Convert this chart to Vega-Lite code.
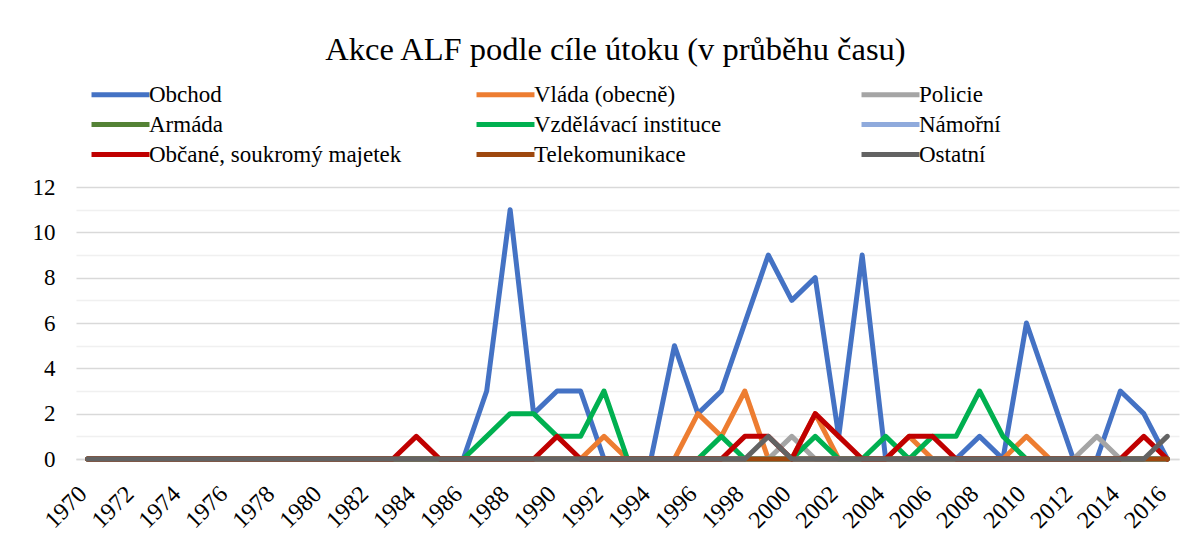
{
  "$schema": "https://vega.github.io/schema/vega-lite/v6.json",
  "width": 1103,
  "height": 272,
  "autosize": {"type": "none"},
  "padding": {"left": 76, "top": 187, "right": 21, "bottom": 91},
  "background": "white",
  "title": {"text": "Akce ALF podle cíle útoku (v průběhu času)", "font": "Liberation Serif, Times New Roman, DejaVu Serif, serif", "fontSize": 32.5, "fontWeight": "normal", "color": "#000000", "anchor": "middle", "dx": -12, "offset": 17},
  "data": {"values": [
{"year":1970,"target":"Obchod","n":0},{"year":1971,"target":"Obchod","n":0},{"year":1972,"target":"Obchod","n":0},{"year":1973,"target":"Obchod","n":0},{"year":1974,"target":"Obchod","n":0},{"year":1975,"target":"Obchod","n":0},{"year":1976,"target":"Obchod","n":0},{"year":1977,"target":"Obchod","n":0},{"year":1978,"target":"Obchod","n":0},{"year":1979,"target":"Obchod","n":0},{"year":1980,"target":"Obchod","n":0},{"year":1981,"target":"Obchod","n":0},{"year":1982,"target":"Obchod","n":0},{"year":1983,"target":"Obchod","n":0},{"year":1984,"target":"Obchod","n":0},{"year":1985,"target":"Obchod","n":0},{"year":1986,"target":"Obchod","n":0},{"year":1987,"target":"Obchod","n":3},{"year":1988,"target":"Obchod","n":11},{"year":1989,"target":"Obchod","n":2},{"year":1990,"target":"Obchod","n":3},{"year":1991,"target":"Obchod","n":3},{"year":1992,"target":"Obchod","n":0},{"year":1993,"target":"Obchod","n":0},{"year":1994,"target":"Obchod","n":0},{"year":1995,"target":"Obchod","n":5},{"year":1996,"target":"Obchod","n":2},{"year":1997,"target":"Obchod","n":3},{"year":1998,"target":"Obchod","n":6},{"year":1999,"target":"Obchod","n":9},{"year":2000,"target":"Obchod","n":7},{"year":2001,"target":"Obchod","n":8},{"year":2002,"target":"Obchod","n":1},{"year":2003,"target":"Obchod","n":9},{"year":2004,"target":"Obchod","n":0},{"year":2005,"target":"Obchod","n":0},{"year":2006,"target":"Obchod","n":0},{"year":2007,"target":"Obchod","n":0},{"year":2008,"target":"Obchod","n":1},{"year":2009,"target":"Obchod","n":0},{"year":2010,"target":"Obchod","n":6},{"year":2011,"target":"Obchod","n":3},{"year":2012,"target":"Obchod","n":0},{"year":2013,"target":"Obchod","n":0},{"year":2014,"target":"Obchod","n":3},{"year":2015,"target":"Obchod","n":2},{"year":2016,"target":"Obchod","n":0},
{"year":1970,"target":"Vláda (obecně)","n":0},{"year":1971,"target":"Vláda (obecně)","n":0},{"year":1972,"target":"Vláda (obecně)","n":0},{"year":1973,"target":"Vláda (obecně)","n":0},{"year":1974,"target":"Vláda (obecně)","n":0},{"year":1975,"target":"Vláda (obecně)","n":0},{"year":1976,"target":"Vláda (obecně)","n":0},{"year":1977,"target":"Vláda (obecně)","n":0},{"year":1978,"target":"Vláda (obecně)","n":0},{"year":1979,"target":"Vláda (obecně)","n":0},{"year":1980,"target":"Vláda (obecně)","n":0},{"year":1981,"target":"Vláda (obecně)","n":0},{"year":1982,"target":"Vláda (obecně)","n":0},{"year":1983,"target":"Vláda (obecně)","n":0},{"year":1984,"target":"Vláda (obecně)","n":0},{"year":1985,"target":"Vláda (obecně)","n":0},{"year":1986,"target":"Vláda (obecně)","n":0},{"year":1987,"target":"Vláda (obecně)","n":0},{"year":1988,"target":"Vláda (obecně)","n":0},{"year":1989,"target":"Vláda (obecně)","n":0},{"year":1990,"target":"Vláda (obecně)","n":0},{"year":1991,"target":"Vláda (obecně)","n":0},{"year":1992,"target":"Vláda (obecně)","n":1},{"year":1993,"target":"Vláda (obecně)","n":0},{"year":1994,"target":"Vláda (obecně)","n":0},{"year":1995,"target":"Vláda (obecně)","n":0},{"year":1996,"target":"Vláda (obecně)","n":2},{"year":1997,"target":"Vláda (obecně)","n":1},{"year":1998,"target":"Vláda (obecně)","n":3},{"year":1999,"target":"Vláda (obecně)","n":0},{"year":2000,"target":"Vláda (obecně)","n":0},{"year":2001,"target":"Vláda (obecně)","n":2},{"year":2002,"target":"Vláda (obecně)","n":0},{"year":2003,"target":"Vláda (obecně)","n":0},{"year":2004,"target":"Vláda (obecně)","n":0},{"year":2005,"target":"Vláda (obecně)","n":1},{"year":2006,"target":"Vláda (obecně)","n":0},{"year":2007,"target":"Vláda (obecně)","n":0},{"year":2008,"target":"Vláda (obecně)","n":0},{"year":2009,"target":"Vláda (obecně)","n":0},{"year":2010,"target":"Vláda (obecně)","n":1},{"year":2011,"target":"Vláda (obecně)","n":0},{"year":2012,"target":"Vláda (obecně)","n":0},{"year":2013,"target":"Vláda (obecně)","n":0},{"year":2014,"target":"Vláda (obecně)","n":0},{"year":2015,"target":"Vláda (obecně)","n":0},{"year":2016,"target":"Vláda (obecně)","n":0},
{"year":1970,"target":"Policie","n":0},{"year":1971,"target":"Policie","n":0},{"year":1972,"target":"Policie","n":0},{"year":1973,"target":"Policie","n":0},{"year":1974,"target":"Policie","n":0},{"year":1975,"target":"Policie","n":0},{"year":1976,"target":"Policie","n":0},{"year":1977,"target":"Policie","n":0},{"year":1978,"target":"Policie","n":0},{"year":1979,"target":"Policie","n":0},{"year":1980,"target":"Policie","n":0},{"year":1981,"target":"Policie","n":0},{"year":1982,"target":"Policie","n":0},{"year":1983,"target":"Policie","n":0},{"year":1984,"target":"Policie","n":0},{"year":1985,"target":"Policie","n":0},{"year":1986,"target":"Policie","n":0},{"year":1987,"target":"Policie","n":0},{"year":1988,"target":"Policie","n":0},{"year":1989,"target":"Policie","n":0},{"year":1990,"target":"Policie","n":0},{"year":1991,"target":"Policie","n":0},{"year":1992,"target":"Policie","n":0},{"year":1993,"target":"Policie","n":0},{"year":1994,"target":"Policie","n":0},{"year":1995,"target":"Policie","n":0},{"year":1996,"target":"Policie","n":0},{"year":1997,"target":"Policie","n":0},{"year":1998,"target":"Policie","n":0},{"year":1999,"target":"Policie","n":0},{"year":2000,"target":"Policie","n":1},{"year":2001,"target":"Policie","n":0},{"year":2002,"target":"Policie","n":0},{"year":2003,"target":"Policie","n":0},{"year":2004,"target":"Policie","n":0},{"year":2005,"target":"Policie","n":0},{"year":2006,"target":"Policie","n":0},{"year":2007,"target":"Policie","n":0},{"year":2008,"target":"Policie","n":0},{"year":2009,"target":"Policie","n":0},{"year":2010,"target":"Policie","n":0},{"year":2011,"target":"Policie","n":0},{"year":2012,"target":"Policie","n":0},{"year":2013,"target":"Policie","n":1},{"year":2014,"target":"Policie","n":0},{"year":2015,"target":"Policie","n":0},{"year":2016,"target":"Policie","n":0},
{"year":1970,"target":"Armáda","n":0},{"year":1971,"target":"Armáda","n":0},{"year":1972,"target":"Armáda","n":0},{"year":1973,"target":"Armáda","n":0},{"year":1974,"target":"Armáda","n":0},{"year":1975,"target":"Armáda","n":0},{"year":1976,"target":"Armáda","n":0},{"year":1977,"target":"Armáda","n":0},{"year":1978,"target":"Armáda","n":0},{"year":1979,"target":"Armáda","n":0},{"year":1980,"target":"Armáda","n":0},{"year":1981,"target":"Armáda","n":0},{"year":1982,"target":"Armáda","n":0},{"year":1983,"target":"Armáda","n":0},{"year":1984,"target":"Armáda","n":0},{"year":1985,"target":"Armáda","n":0},{"year":1986,"target":"Armáda","n":0},{"year":1987,"target":"Armáda","n":0},{"year":1988,"target":"Armáda","n":0},{"year":1989,"target":"Armáda","n":0},{"year":1990,"target":"Armáda","n":0},{"year":1991,"target":"Armáda","n":0},{"year":1992,"target":"Armáda","n":0},{"year":1993,"target":"Armáda","n":0},{"year":1994,"target":"Armáda","n":0},{"year":1995,"target":"Armáda","n":0},{"year":1996,"target":"Armáda","n":0},{"year":1997,"target":"Armáda","n":0},{"year":1998,"target":"Armáda","n":0},{"year":1999,"target":"Armáda","n":0},{"year":2000,"target":"Armáda","n":0},{"year":2001,"target":"Armáda","n":0},{"year":2002,"target":"Armáda","n":0},{"year":2003,"target":"Armáda","n":0},{"year":2004,"target":"Armáda","n":0},{"year":2005,"target":"Armáda","n":0},{"year":2006,"target":"Armáda","n":0},{"year":2007,"target":"Armáda","n":0},{"year":2008,"target":"Armáda","n":0},{"year":2009,"target":"Armáda","n":0},{"year":2010,"target":"Armáda","n":0},{"year":2011,"target":"Armáda","n":0},{"year":2012,"target":"Armáda","n":0},{"year":2013,"target":"Armáda","n":0},{"year":2014,"target":"Armáda","n":0},{"year":2015,"target":"Armáda","n":0},{"year":2016,"target":"Armáda","n":0},
{"year":1970,"target":"Vzdělávací instituce","n":0},{"year":1971,"target":"Vzdělávací instituce","n":0},{"year":1972,"target":"Vzdělávací instituce","n":0},{"year":1973,"target":"Vzdělávací instituce","n":0},{"year":1974,"target":"Vzdělávací instituce","n":0},{"year":1975,"target":"Vzdělávací instituce","n":0},{"year":1976,"target":"Vzdělávací instituce","n":0},{"year":1977,"target":"Vzdělávací instituce","n":0},{"year":1978,"target":"Vzdělávací instituce","n":0},{"year":1979,"target":"Vzdělávací instituce","n":0},{"year":1980,"target":"Vzdělávací instituce","n":0},{"year":1981,"target":"Vzdělávací instituce","n":0},{"year":1982,"target":"Vzdělávací instituce","n":0},{"year":1983,"target":"Vzdělávací instituce","n":0},{"year":1984,"target":"Vzdělávací instituce","n":0},{"year":1985,"target":"Vzdělávací instituce","n":0},{"year":1986,"target":"Vzdělávací instituce","n":0},{"year":1987,"target":"Vzdělávací instituce","n":1},{"year":1988,"target":"Vzdělávací instituce","n":2},{"year":1989,"target":"Vzdělávací instituce","n":2},{"year":1990,"target":"Vzdělávací instituce","n":1},{"year":1991,"target":"Vzdělávací instituce","n":1},{"year":1992,"target":"Vzdělávací instituce","n":3},{"year":1993,"target":"Vzdělávací instituce","n":0},{"year":1994,"target":"Vzdělávací instituce","n":0},{"year":1995,"target":"Vzdělávací instituce","n":0},{"year":1996,"target":"Vzdělávací instituce","n":0},{"year":1997,"target":"Vzdělávací instituce","n":1},{"year":1998,"target":"Vzdělávací instituce","n":0},{"year":1999,"target":"Vzdělávací instituce","n":0},{"year":2000,"target":"Vzdělávací instituce","n":0},{"year":2001,"target":"Vzdělávací instituce","n":1},{"year":2002,"target":"Vzdělávací instituce","n":0},{"year":2003,"target":"Vzdělávací instituce","n":0},{"year":2004,"target":"Vzdělávací instituce","n":1},{"year":2005,"target":"Vzdělávací instituce","n":0},{"year":2006,"target":"Vzdělávací instituce","n":1},{"year":2007,"target":"Vzdělávací instituce","n":1},{"year":2008,"target":"Vzdělávací instituce","n":3},{"year":2009,"target":"Vzdělávací instituce","n":1},{"year":2010,"target":"Vzdělávací instituce","n":0},{"year":2011,"target":"Vzdělávací instituce","n":0},{"year":2012,"target":"Vzdělávací instituce","n":0},{"year":2013,"target":"Vzdělávací instituce","n":0},{"year":2014,"target":"Vzdělávací instituce","n":0},{"year":2015,"target":"Vzdělávací instituce","n":0},{"year":2016,"target":"Vzdělávací instituce","n":0},
{"year":1970,"target":"Námořní","n":0},{"year":1971,"target":"Námořní","n":0},{"year":1972,"target":"Námořní","n":0},{"year":1973,"target":"Námořní","n":0},{"year":1974,"target":"Námořní","n":0},{"year":1975,"target":"Námořní","n":0},{"year":1976,"target":"Námořní","n":0},{"year":1977,"target":"Námořní","n":0},{"year":1978,"target":"Námořní","n":0},{"year":1979,"target":"Námořní","n":0},{"year":1980,"target":"Námořní","n":0},{"year":1981,"target":"Námořní","n":0},{"year":1982,"target":"Námořní","n":0},{"year":1983,"target":"Námořní","n":0},{"year":1984,"target":"Námořní","n":0},{"year":1985,"target":"Námořní","n":0},{"year":1986,"target":"Námořní","n":0},{"year":1987,"target":"Námořní","n":0},{"year":1988,"target":"Námořní","n":0},{"year":1989,"target":"Námořní","n":0},{"year":1990,"target":"Námořní","n":0},{"year":1991,"target":"Námořní","n":0},{"year":1992,"target":"Námořní","n":0},{"year":1993,"target":"Námořní","n":0},{"year":1994,"target":"Námořní","n":0},{"year":1995,"target":"Námořní","n":0},{"year":1996,"target":"Námořní","n":0},{"year":1997,"target":"Námořní","n":0},{"year":1998,"target":"Námořní","n":0},{"year":1999,"target":"Námořní","n":0},{"year":2000,"target":"Námořní","n":0},{"year":2001,"target":"Námořní","n":0},{"year":2002,"target":"Námořní","n":0},{"year":2003,"target":"Námořní","n":0},{"year":2004,"target":"Námořní","n":0},{"year":2005,"target":"Námořní","n":0},{"year":2006,"target":"Námořní","n":0},{"year":2007,"target":"Námořní","n":0},{"year":2008,"target":"Námořní","n":0},{"year":2009,"target":"Námořní","n":0},{"year":2010,"target":"Námořní","n":0},{"year":2011,"target":"Námořní","n":0},{"year":2012,"target":"Námořní","n":0},{"year":2013,"target":"Námořní","n":0},{"year":2014,"target":"Námořní","n":0},{"year":2015,"target":"Námořní","n":0},{"year":2016,"target":"Námořní","n":0},
{"year":1970,"target":"Občané, soukromý majetek","n":0},{"year":1971,"target":"Občané, soukromý majetek","n":0},{"year":1972,"target":"Občané, soukromý majetek","n":0},{"year":1973,"target":"Občané, soukromý majetek","n":0},{"year":1974,"target":"Občané, soukromý majetek","n":0},{"year":1975,"target":"Občané, soukromý majetek","n":0},{"year":1976,"target":"Občané, soukromý majetek","n":0},{"year":1977,"target":"Občané, soukromý majetek","n":0},{"year":1978,"target":"Občané, soukromý majetek","n":0},{"year":1979,"target":"Občané, soukromý majetek","n":0},{"year":1980,"target":"Občané, soukromý majetek","n":0},{"year":1981,"target":"Občané, soukromý majetek","n":0},{"year":1982,"target":"Občané, soukromý majetek","n":0},{"year":1983,"target":"Občané, soukromý majetek","n":0},{"year":1984,"target":"Občané, soukromý majetek","n":1},{"year":1985,"target":"Občané, soukromý majetek","n":0},{"year":1986,"target":"Občané, soukromý majetek","n":0},{"year":1987,"target":"Občané, soukromý majetek","n":0},{"year":1988,"target":"Občané, soukromý majetek","n":0},{"year":1989,"target":"Občané, soukromý majetek","n":0},{"year":1990,"target":"Občané, soukromý majetek","n":1},{"year":1991,"target":"Občané, soukromý majetek","n":0},{"year":1992,"target":"Občané, soukromý majetek","n":0},{"year":1993,"target":"Občané, soukromý majetek","n":0},{"year":1994,"target":"Občané, soukromý majetek","n":0},{"year":1995,"target":"Občané, soukromý majetek","n":0},{"year":1996,"target":"Občané, soukromý majetek","n":0},{"year":1997,"target":"Občané, soukromý majetek","n":0},{"year":1998,"target":"Občané, soukromý majetek","n":1},{"year":1999,"target":"Občané, soukromý majetek","n":1},{"year":2000,"target":"Občané, soukromý majetek","n":0},{"year":2001,"target":"Občané, soukromý majetek","n":2},{"year":2002,"target":"Občané, soukromý majetek","n":1},{"year":2003,"target":"Občané, soukromý majetek","n":0},{"year":2004,"target":"Občané, soukromý majetek","n":0},{"year":2005,"target":"Občané, soukromý majetek","n":1},{"year":2006,"target":"Občané, soukromý majetek","n":1},{"year":2007,"target":"Občané, soukromý majetek","n":0},{"year":2008,"target":"Občané, soukromý majetek","n":0},{"year":2009,"target":"Občané, soukromý majetek","n":0},{"year":2010,"target":"Občané, soukromý majetek","n":0},{"year":2011,"target":"Občané, soukromý majetek","n":0},{"year":2012,"target":"Občané, soukromý majetek","n":0},{"year":2013,"target":"Občané, soukromý majetek","n":0},{"year":2014,"target":"Občané, soukromý majetek","n":0},{"year":2015,"target":"Občané, soukromý majetek","n":1},{"year":2016,"target":"Občané, soukromý majetek","n":0},
{"year":1970,"target":"Telekomunikace","n":0},{"year":1971,"target":"Telekomunikace","n":0},{"year":1972,"target":"Telekomunikace","n":0},{"year":1973,"target":"Telekomunikace","n":0},{"year":1974,"target":"Telekomunikace","n":0},{"year":1975,"target":"Telekomunikace","n":0},{"year":1976,"target":"Telekomunikace","n":0},{"year":1977,"target":"Telekomunikace","n":0},{"year":1978,"target":"Telekomunikace","n":0},{"year":1979,"target":"Telekomunikace","n":0},{"year":1980,"target":"Telekomunikace","n":0},{"year":1981,"target":"Telekomunikace","n":0},{"year":1982,"target":"Telekomunikace","n":0},{"year":1983,"target":"Telekomunikace","n":0},{"year":1984,"target":"Telekomunikace","n":0},{"year":1985,"target":"Telekomunikace","n":0},{"year":1986,"target":"Telekomunikace","n":0},{"year":1987,"target":"Telekomunikace","n":0},{"year":1988,"target":"Telekomunikace","n":0},{"year":1989,"target":"Telekomunikace","n":0},{"year":1990,"target":"Telekomunikace","n":0},{"year":1991,"target":"Telekomunikace","n":0},{"year":1992,"target":"Telekomunikace","n":0},{"year":1993,"target":"Telekomunikace","n":0},{"year":1994,"target":"Telekomunikace","n":0},{"year":1995,"target":"Telekomunikace","n":0},{"year":1996,"target":"Telekomunikace","n":0},{"year":1997,"target":"Telekomunikace","n":0},{"year":1998,"target":"Telekomunikace","n":0},{"year":1999,"target":"Telekomunikace","n":0},{"year":2000,"target":"Telekomunikace","n":0},{"year":2001,"target":"Telekomunikace","n":0},{"year":2002,"target":"Telekomunikace","n":0},{"year":2003,"target":"Telekomunikace","n":0},{"year":2004,"target":"Telekomunikace","n":0},{"year":2005,"target":"Telekomunikace","n":0},{"year":2006,"target":"Telekomunikace","n":0},{"year":2007,"target":"Telekomunikace","n":0},{"year":2008,"target":"Telekomunikace","n":0},{"year":2009,"target":"Telekomunikace","n":0},{"year":2010,"target":"Telekomunikace","n":0},{"year":2011,"target":"Telekomunikace","n":0},{"year":2012,"target":"Telekomunikace","n":0},{"year":2013,"target":"Telekomunikace","n":0},{"year":2014,"target":"Telekomunikace","n":0},{"year":2015,"target":"Telekomunikace","n":0},{"year":2016,"target":"Telekomunikace","n":0},
{"year":1970,"target":"Ostatní","n":0},{"year":1971,"target":"Ostatní","n":0},{"year":1972,"target":"Ostatní","n":0},{"year":1973,"target":"Ostatní","n":0},{"year":1974,"target":"Ostatní","n":0},{"year":1975,"target":"Ostatní","n":0},{"year":1976,"target":"Ostatní","n":0},{"year":1977,"target":"Ostatní","n":0},{"year":1978,"target":"Ostatní","n":0},{"year":1979,"target":"Ostatní","n":0},{"year":1980,"target":"Ostatní","n":0},{"year":1981,"target":"Ostatní","n":0},{"year":1982,"target":"Ostatní","n":0},{"year":1983,"target":"Ostatní","n":0},{"year":1984,"target":"Ostatní","n":0},{"year":1985,"target":"Ostatní","n":0},{"year":1986,"target":"Ostatní","n":0},{"year":1987,"target":"Ostatní","n":0},{"year":1988,"target":"Ostatní","n":0},{"year":1989,"target":"Ostatní","n":0},{"year":1990,"target":"Ostatní","n":0},{"year":1991,"target":"Ostatní","n":0},{"year":1992,"target":"Ostatní","n":0},{"year":1993,"target":"Ostatní","n":0},{"year":1994,"target":"Ostatní","n":0},{"year":1995,"target":"Ostatní","n":0},{"year":1996,"target":"Ostatní","n":0},{"year":1997,"target":"Ostatní","n":0},{"year":1998,"target":"Ostatní","n":0},{"year":1999,"target":"Ostatní","n":1},{"year":2000,"target":"Ostatní","n":0},{"year":2001,"target":"Ostatní","n":0},{"year":2002,"target":"Ostatní","n":0},{"year":2003,"target":"Ostatní","n":0},{"year":2004,"target":"Ostatní","n":0},{"year":2005,"target":"Ostatní","n":0},{"year":2006,"target":"Ostatní","n":0},{"year":2007,"target":"Ostatní","n":0},{"year":2008,"target":"Ostatní","n":0},{"year":2009,"target":"Ostatní","n":0},{"year":2010,"target":"Ostatní","n":0},{"year":2011,"target":"Ostatní","n":0},{"year":2012,"target":"Ostatní","n":0},{"year":2013,"target":"Ostatní","n":0},{"year":2014,"target":"Ostatní","n":0},{"year":2015,"target":"Ostatní","n":0},{"year":2016,"target":"Ostatní","n":1}
  ]},
  "mark": {"type": "line", "strokeWidth": 5, "strokeJoin": "round", "strokeCap": "round"},
  "encoding": {
    "x": {"field": "year", "type": "quantitative",
      "scale": {"domain": [1969.5, 2016.5], "nice": false, "zero": false},
      "axis": {"title": null, "values": [1970,1972,1974,1976,1978,1980,1982,1984,1986,1988,1990,1992,1994,1996,1998,2000,2002,2004,2006,2008,2010,2012,2014,2016],
        "format": "d", "labelAngle": -45, "labelAlign": "right", "labelBaseline": "middle", "labelPadding": 31, "labelOffset": -5,
        "labelFont": "Liberation Serif, Times New Roman, DejaVu Serif, serif", "labelFontSize": 24, "labelColor": "#000000", "labelOverlap": false,
        "ticks": false, "grid": false, "domainColor": "#d9d9d9", "domainWidth": 1.3}},
    "y": {"field": "n", "type": "quantitative",
      "scale": {"domain": [0, 12], "nice": false},
      "axis": {"title": null, "values": [0,1,2,3,4,5,6,7,8,9,10,11,12],
        "labelExpr": "datum.value % 2 === 0 ? datum.label : ''",
        "labelFont": "Liberation Serif, Times New Roman, DejaVu Serif, serif", "labelFontSize": 23, "labelColor": "#000000", "labelPadding": 21,
        "ticks": false, "domain": false, "grid": true,
        "gridColor": {"condition": {"test": "datum.value % 2 === 0", "value": "#d9d9d9"}, "value": "#f0f0f0"},
        "gridWidth": 1.3}},
    "color": {"field": "target", "type": "nominal",
      "scale": {"domain": ["Obchod","Vláda (obecně)","Policie","Armáda","Vzdělávací instituce","Námořní","Občané, soukromý majetek","Telekomunikace","Ostatní"],
        "range": ["#4472C4","#ED7D31","#A5A5A5","#548235","#00B050","#8FAADC","#C00000","#9E480E","#636363"]},
      "legend": {"title": null, "orient": "none", "direction": "horizontal", "legendX": 33, "legendY": -104, "columns": 3, "gridAlign": "all",
        "columnPadding": 64, "rowPadding": 6, "symbolType": "M-4,0H4", "symbolSize": 210, "symbolStrokeWidth": 5,
        "labelFont": "Liberation Serif, Times New Roman, DejaVu Serif, serif", "labelFontSize": 23, "labelColor": "#000000", "labelOffset": 17, "labelLimit": 400}}
  },
  "config": {"view": {"stroke": null}}
}
